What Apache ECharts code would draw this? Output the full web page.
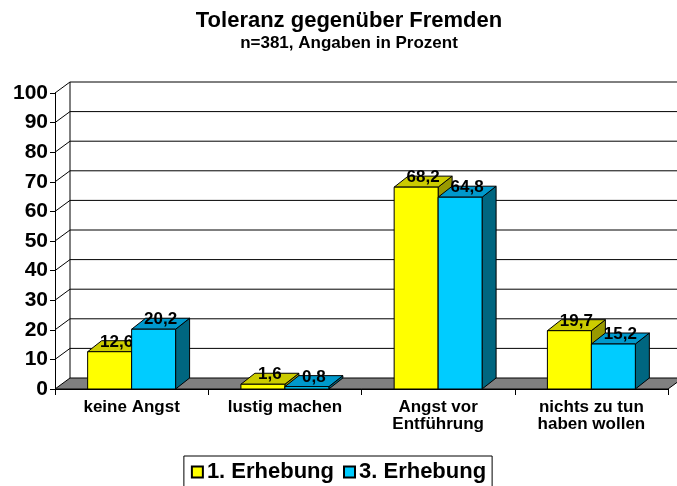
<!DOCTYPE html>
<html>
<head>
<meta charset="utf-8">
<script src="https://cdn.jsdelivr.net/npm/echarts@6/dist/echarts.min.js"></script>
<style>
  html, body { margin: 0; padding: 0; background: #fff; }
  #chart { width: 677px; height: 486px; }
</style>
</head>
<body>
<div id="chart"></div>
<script>
// Daten
var categories = ['keine Angst', 'lustig machen', 'Angst vor\nEntführung', 'nichts zu tun\nhaben wollen']
var erhebung1 = [12.6, 1.6, 68.2, 19.7]
var erhebung3 = [20.2, 0.8, 64.8, 15.2]
var yTicks = [0, 10, 20, 30, 40, 50, 60, 70, 80, 90, 100]

var FONT = '"Liberation Sans", Arial, sans-serif'
var WALL_D = [15, 11]
var BAR_D = [14, 11]

// Rueckwand, Seitenwand und Boden
function renderWalls (params, api) {
  var cs = params.coordSys
  var L = cs.x
  var R = cs.x + cs.width
  var v = api.value(1)
  var y = api.coord([0, v])[1]
  var y0 = api.coord([0, 0])[1]
  var dx = WALL_D[0]
  var dy = WALL_D[1]
  var children = []
  if (v === 0) {
    children.push({
      type: 'polygon',
      shape: { points: [[L, y], [R, y], [R + dx, y - dy], [L + dx, y - dy]] },
      style: { fill: '#808080', stroke: '#000', lineWidth: 1 }
    })
  } else {
    children.push({
      type: 'line',
      shape: { x1: L + dx, y1: y - dy, x2: R + dx, y2: y - dy },
      style: { stroke: '#000', lineWidth: 1 }
    })
    children.push({
      type: 'line',
      shape: { x1: L, y1: y, x2: L + dx, y2: y - dy },
      style: { stroke: '#000', lineWidth: 1 }
    })
  }
  if (v === 100) {
    children.push({
      type: 'line',
      shape: { x1: L + dx, y1: y - dy, x2: L + dx, y2: y0 - dy },
      style: { stroke: '#000', lineWidth: 1 }
    })
  }
  return { type: 'group', children: children }
}

// 3D-Saeule
function makeBarRenderer (offset, colors) {
  return function (params, api) {
    var idx = api.value(0)
    var val = api.value(1)
    var base = api.coord([idx, 0])
    var top = api.coord([idx, val])
    var bw = api.size([1, 0])[0] * 0.287
    var x0 = base[0] + offset * bw
    var x1 = x0 + bw
    var yb = base[1]
    var yt = top[1]
    var dx = BAR_D[0]
    var dy = BAR_D[1]
    return {
      type: 'group',
      children: [
        {
          type: 'polygon',
          shape: { points: [[x1, yt], [x1 + dx, yt - dy], [x1 + dx, yb - dy], [x1, yb]] },
          style: { fill: colors.side, stroke: '#000', lineWidth: 1 }
        },
        {
          type: 'polygon',
          shape: { points: [[x0, yt], [x1, yt], [x1 + dx, yt - dy], [x0 + dx, yt - dy]] },
          style: { fill: colors.top, stroke: '#000', lineWidth: 1 }
        },
        {
          type: 'rect',
          shape: { x: x0, y: yt, width: bw, height: yb - yt },
          style: { fill: colors.front, stroke: '#000', lineWidth: 1 }
        },
        {
          type: 'text',
          z2: 10,
          style: {
            text: String(val).replace('.', ','),
            x: x0 + bw / 2 + dx / 2,
            y: yt - dy / 2 - 4,
            align: 'center',
            verticalAlign: 'middle',
            font: 'bold 17px ' + FONT,
            fill: '#000'
          }
        }
      ]
    }
  }
}

var chart = echarts.init(document.getElementById('chart'))
var option = {
  backgroundColor: '#fff',
  animation: false,
  title: {
    text: 'Toleranz gegenüber Fremden',
    subtext: 'n=381, Angaben in Prozent',
    left: 344,
    textAlign: 'center',
    top: 5,
    itemGap: 3,
    textStyle: { fontFamily: FONT, fontWeight: 'bold', fontSize: 22, color: '#000' },
    subtextStyle: { fontFamily: FONT, fontWeight: 'bold', fontSize: 17, color: '#000' }
  },
  legend: {
    data: ['1. Erhebung', '3. Erhebung'],
    left: 'center',
    top: 456,
    icon: 'rect',
    itemWidth: 11,
    itemHeight: 11,
    itemGap: 9,
    padding: [5, 6, 8, 7],
    borderColor: '#000',
    borderWidth: 1,
    textStyle: { fontFamily: FONT, fontWeight: 'bold', fontSize: 22, color: '#000', padding: [0, 0, 0, -1] }
  },
  grid: { left: 55, right: 9, top: 93, bottom: 97 },
  xAxis: {
    type: 'category',
    data: categories,
    axisLine: { show: true, lineStyle: { color: '#000' } },
    axisTick: { show: true, length: 6, lineStyle: { color: '#000' } },
    axisLabel: {
      margin: 10,
      fontFamily: FONT,
      fontWeight: 'bold',
      fontSize: 17,
      lineHeight: 17,
      color: '#000'
    }
  },
  yAxis: {
    type: 'value',
    min: 0,
    max: 100,
    interval: 10,
    splitLine: { show: false },
    axisLine: { show: true, lineStyle: { color: '#000' } },
    axisTick: { show: true, length: 5, lineStyle: { color: '#000' } },
    axisLabel: {
      margin: 7,
      fontFamily: FONT,
      fontWeight: 'bold',
      fontSize: 21,
      color: '#000'
    }
  },
  series: [
    {
      name: 'walls',
      type: 'custom',
      z: 1,
      renderItem: renderWalls,
      encode: { x: 0, y: 1 },
      data: yTicks.map(function (v) { return [0, v] }),
      silent: true
    },
    {
      name: '1. Erhebung',
      type: 'custom',
      z: 3,
      itemStyle: { color: '#FFFF00', borderColor: '#000', borderWidth: 1 },
      renderItem: makeBarRenderer(-1, { front: '#FFFF00', top: '#CCCC00', side: '#999900' }),
      encode: { x: 0, y: 1 },
      data: erhebung1.map(function (v, i) { return [i, v] })
    },
    {
      name: '3. Erhebung',
      type: 'custom',
      z: 4,
      itemStyle: { color: '#00CCFF', borderColor: '#000', borderWidth: 1 },
      renderItem: makeBarRenderer(0, { front: '#00CCFF', top: '#0099CC', side: '#006680' }),
      encode: { x: 0, y: 1 },
      data: erhebung3.map(function (v, i) { return [i, v] })
    }
  ]
}
chart.setOption(option)
</script>
</body>
</html>
